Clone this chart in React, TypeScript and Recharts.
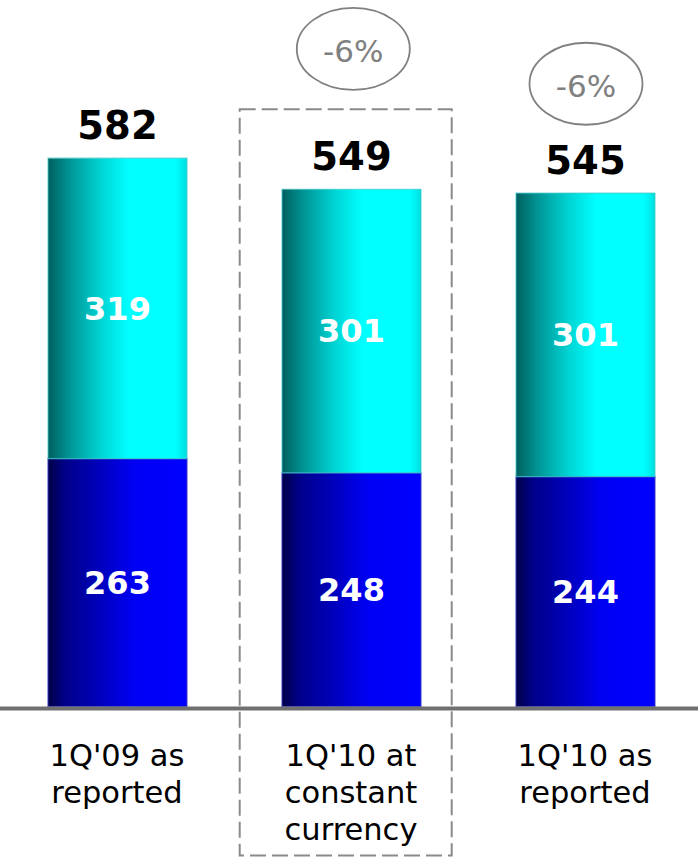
import { Bar, BarChart, LabelList, ReferenceArea, ReferenceDot, XAxis, YAxis } from "recharts";

// Quarterly revenue split, two stacked segments per quarter
const periods = ["1Q'09 as reported", "1Q'10 at constant currency", "1Q'10 as reported"];
const periodLines = [
  ["1Q'09 as", "reported"],
  ["1Q'10 at", "constant", "currency"],
  ["1Q'10 as", "reported"],
];
const lowerValues = [263, 248, 244];
const upperValues = [319, 301, 301];

const changeLabels = ["-6%", "-6%"];
const changePeriods = [periods[1], periods[2]];
// vertical placement of the change bubbles, in axis units
const changeHeights = [698, 661];

const data = periods.map((name, i) => ({
  name,
  lower: lowerValues[i],
  upper: upperValues[i],
  total: lowerValues[i] + upperValues[i],
}));

const FONT = "'DejaVu Sans', Verdana, sans-serif";

function PeriodTick({ x, y, payload }: any) {
  const idx = periods.indexOf(payload.value);
  const lines = periodLines[idx] ?? [payload.value];
  return (
    <text x={x} y={y} textAnchor="middle" fontSize={30.5} fill="#000" fontFamily={FONT}>
      {lines.map((line, i) => (
        <tspan key={i} x={x} y={y + 57 + i * 37}>
          {line}
        </tspan>
      ))}
    </text>
  );
}

function TotalLabel({ x, y, width, value }: any) {
  return (
    <text
      x={x + width / 2}
      y={y - 19}
      textAnchor="middle"
      fontSize={38.5}
      fontWeight="bold"
      fill="#000"
      fontFamily={FONT}
    >
      {value}
    </text>
  );
}

function ChangeBubble(label: string, shift: number) {
  return ({ cx, cy }: any) => (
    <g>
      <ellipse cx={cx + shift} cy={cy} rx={56.5} ry={41} fill="#fff" stroke="#808080" strokeWidth={1.8} />
      <text x={cx + shift} y={cy + 13} textAnchor="middle" fontSize={31} fill="#808080" fontFamily={FONT}>
        {label}
      </text>
    </g>
  );
}

export default function App() {
  return (
    <div
      style={{
        position: "absolute",
        left: 0,
        top: 0,
        width: 698,
        height: 858,
        overflow: "hidden",
        background: "#fff",
        fontFamily: FONT,
      }}
    >
      <BarChart
        width={702}
        height={858}
        data={data}
        margin={{ top: 47, right: 0, left: 0, bottom: 119.5 }}
        barSize={139}
      >
        <defs>
          <linearGradient id="lowerFill" x1="0" y1="0" x2="1" y2="0">
            <stop offset="0%" stopColor="#000048" />
            <stop offset="12%" stopColor="#000088" />
            <stop offset="35%" stopColor="#0000b8" />
            <stop offset="62%" stopColor="#0000f4" />
            <stop offset="100%" stopColor="#0000ff" />
          </linearGradient>
          <linearGradient id="upperFill" x1="0" y1="0" x2="1" y2="0">
            <stop offset="0%" stopColor="#005e5e" />
            <stop offset="14%" stopColor="#009090" />
            <stop offset="38%" stopColor="#00d4d4" />
            <stop offset="58%" stopColor="#00ffff" />
            <stop offset="92%" stopColor="#00ffff" />
            <stop offset="100%" stopColor="#00dede" />
          </linearGradient>
        </defs>
        <XAxis
          dataKey="name"
          height={30}
          axisLine={{ stroke: "#707070", strokeWidth: 4 }}
          tickLine={false}
          tickSize={0}
          tickMargin={0}
          interval={0}
          tick={<PeriodTick />}
        />
        <YAxis hide domain={[-2.12, 700]} />
        <ReferenceArea
          x1={periods[1]}
          x2={periods[1]}
          y1={0}
          y2={634}
          ifOverflow="visible"
          shape={(p: any) => (
            <rect
              x={p.x + p.width / 2 - 111.3}
              y={p.y}
              width={212}
              height={855.5 - p.y}
              fill="none"
              stroke="#8a8a8a"
              strokeWidth={2}
              strokeDasharray="16 6"
            />
          )}
        />
        <Bar
          dataKey="lower"
          stackId="q"
          fill="url(#lowerFill)"
          stroke="#3434c8"
          strokeOpacity={0.8}
          strokeWidth={1.2}
          isAnimationActive={false}
        >
          <LabelList
            dataKey="lower"
            position="center"
            fill="#fff"
            fontSize={32}
            fontWeight="bold"
            fontFamily={FONT}
          />
        </Bar>
        <Bar
          dataKey="upper"
          stackId="q"
          fill="url(#upperFill)"
          stroke="#40c8c8"
          strokeOpacity={0.7}
          strokeWidth={1.2}
          isAnimationActive={false}
        >
          <LabelList
            dataKey="upper"
            position="center"
            fill="#fff"
            fontSize={32}
            fontWeight="bold"
            fontFamily={FONT}
          />
          <LabelList dataKey="total" content={<TotalLabel />} />
        </Bar>
        {changeLabels.map((label, i) => (
          <ReferenceDot
            key={i}
            x={changePeriods[i]}
            y={changeHeights[i]}
            ifOverflow="visible"
            shape={ChangeBubble(label, i === 0 ? 2.3 : 1)}
          />
        ))}
      </BarChart>
    </div>
  );
}
